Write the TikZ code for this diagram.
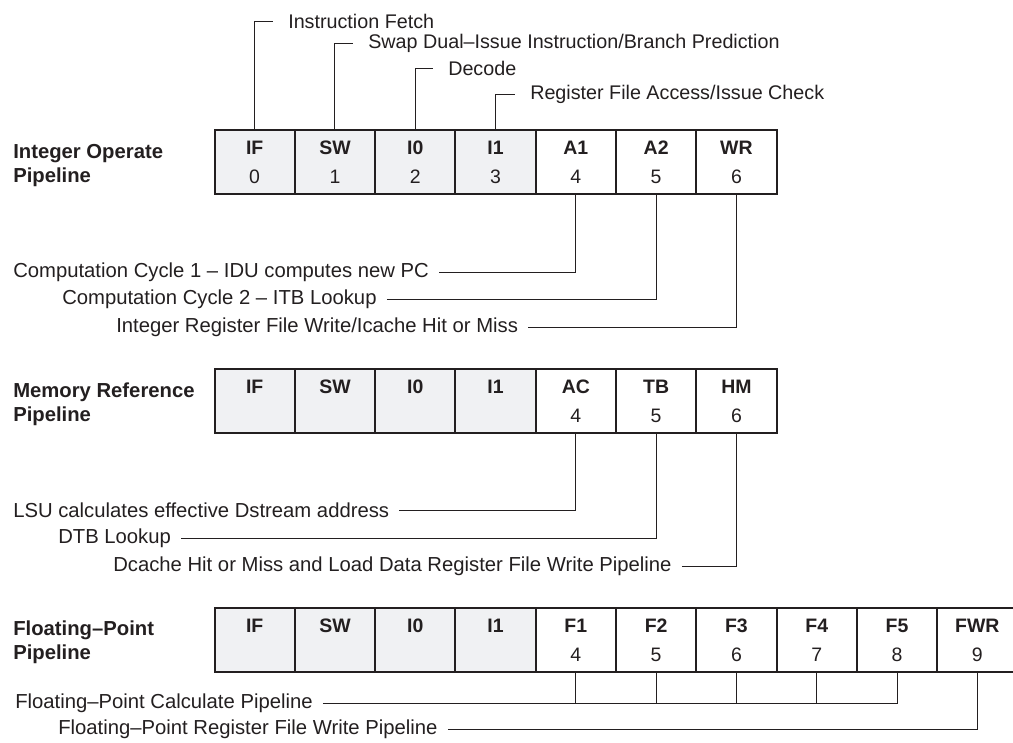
\documentclass[tikz,border=0pt]{standalone}
\usepackage{fontspec}
\setmainfont{Liberation Sans}
\usetikzlibrary{positioning,calc}
\definecolor{inkLine}{RGB}{35, 31, 32}
\definecolor{stageGray}{RGB}{240, 241, 243}

\begin{document}
\begin{tikzpicture}[
        x=0.75pt, y=-0.75pt,
        every node/.style={text=inkLine},
        cell/.style={draw=inkLine, line width=1.5pt, minimum width=60.2pt, minimum height=48pt, inner sep=0pt, align=center, font=\fontsize{14.6pt}{21.75pt}\selectfont},
        early/.style={cell, fill=stageGray},
        late/.style={cell, fill=white},
        title/.style={anchor=west, align=left, inner sep=0pt, font=\fontsize{15.2pt}{18pt}\selectfont\bfseries},
        topnote/.style={anchor=west, inner xsep=11.25pt, inner ysep=0pt, font=\fontsize{14.8pt}{17pt}\selectfont},
        botnote/.style={anchor=west, inner xsep=7.5pt, inner ysep=0pt, font=\fontsize{15.2pt}{17pt}\selectfont},
        lead/.style={draw=inkLine, line width=0.7pt}
    ]
        \useasboundingbox (0, 0) rectangle (1013, 742);

        % Integer operate pipeline
        \node[title] (tInt) at (13, 166) {Integer Operate\\Pipeline};
        \node[early] (int0) at (254.65, 162) {\textbf{IF}\\0};
        \node[early] (int1) at (334.95, 162) {\textbf{SW}\\1};
        \node[early] (int2) at (415.25, 162) {\textbf{I0}\\2};
        \node[early] (int3) at (495.55, 162) {\textbf{I1}\\3};
        \node[late] (int4) at (575.85, 162) {\textbf{A1}\\4};
        \node[late] (int5) at (656.15, 162) {\textbf{A2}\\5};
        \node[late] (int6) at (736.45, 162) {\textbf{WR}\\6};

        \node[topnote] (fetch) at (273, 21) {Instruction Fetch};
        \node[topnote] (swap) at (353, 43) {Swap Dual–Issue Instruction/Branch Prediction};
        \node[topnote] (decode) at (433, 68) {Decode};
        \node[topnote] (regacc) at (515, 94) {Register File Access/Issue Check};
        \draw[lead] (int0.north) |- (fetch.west);
        \draw[lead] (int1.north) |- (swap.west);
        \draw[lead] (int2.north) |- (decode.west);
        \draw[lead] (int3.north) |- (regacc.west);

        \node[botnote] (comp1) at (3, 272) {Computation Cycle 1 – IDU computes new PC};
        \node[botnote] (comp2) at (52, 299.5) {Computation Cycle 2 – ITB Lookup};
        \node[botnote] (intwr) at (106, 327) {Integer Register File Write/Icache Hit or Miss};
        \draw[lead] (comp1.east) -| (int4.south);
        \draw[lead] (comp2.east) -| (int5.south);
        \draw[lead] (intwr.east) -| (int6.south);

        % Memory reference pipeline
        \node[title] (tMem) at (13, 404) {Memory Reference\\Pipeline};
        \node[early] (mem0) at (254.65, 401) {\textbf{IF}\\\phantom{0}};
        \node[early] (mem1) at (334.95, 401) {\textbf{SW}\\\phantom{0}};
        \node[early] (mem2) at (415.25, 401) {\textbf{I0}\\\phantom{0}};
        \node[early] (mem3) at (495.55, 401) {\textbf{I1}\\\phantom{0}};
        \node[late] (mem4) at (575.85, 401) {\textbf{AC}\\4};
        \node[late] (mem5) at (656.15, 401) {\textbf{TB}\\5};
        \node[late] (mem6) at (736.45, 401) {\textbf{HM}\\6};

        \node[botnote] (lsu) at (3, 510) {LSU calculates effective Dstream address};
        \node[botnote] (dtb) at (48, 538) {DTB Lookup};
        \node[botnote] (dcache) at (103, 566) {Dcache Hit or Miss and Load Data Register File Write Pipeline};
        \draw[lead] (lsu.east) -| (mem4.south);
        \draw[lead] (dtb.east) -| (mem5.south);
        \draw[lead] (dcache.east) -| (mem6.south);

        % Floating-point pipeline
        \node[title] (tFp) at (13, 642) {Floating–Point\\Pipeline};
        \node[early] (fp0) at (254.65, 640) {\textbf{IF}\\\phantom{0}};
        \node[early] (fp1) at (334.95, 640) {\textbf{SW}\\\phantom{0}};
        \node[early] (fp2) at (415.25, 640) {\textbf{I0}\\\phantom{0}};
        \node[early] (fp3) at (495.55, 640) {\textbf{I1}\\\phantom{0}};
        \node[late] (fp4) at (575.85, 640) {\textbf{F1}\\4};
        \node[late] (fp5) at (656.15, 640) {\textbf{F2}\\5};
        \node[late] (fp6) at (736.45, 640) {\textbf{F3}\\6};
        \node[late] (fp7) at (816.75, 640) {\textbf{F4}\\7};
        \node[late] (fp8) at (897.05, 640) {\textbf{F5}\\8};
        \node[late] (fp9) at (977.35, 640) {\textbf{FWR}\\9};

        \node[botnote] (fpcalc) at (5, 703) {Floating–Point Calculate Pipeline};
        \node[botnote] (fpwr) at (48, 729) {Floating–Point Register File Write Pipeline};
        \draw[lead] (fpcalc.east) -| (fp8.south);
        \draw[lead] (fp4.south) -- (fp4.south |- fpcalc.east);
        \draw[lead] (fp5.south) -- (fp5.south |- fpcalc.east);
        \draw[lead] (fp6.south) -- (fp6.south |- fpcalc.east);
        \draw[lead] (fp7.south) -- (fp7.south |- fpcalc.east);
        \draw[lead] (fpwr.east) -| (fp9.south);
    \end{tikzpicture}
\end{document}
